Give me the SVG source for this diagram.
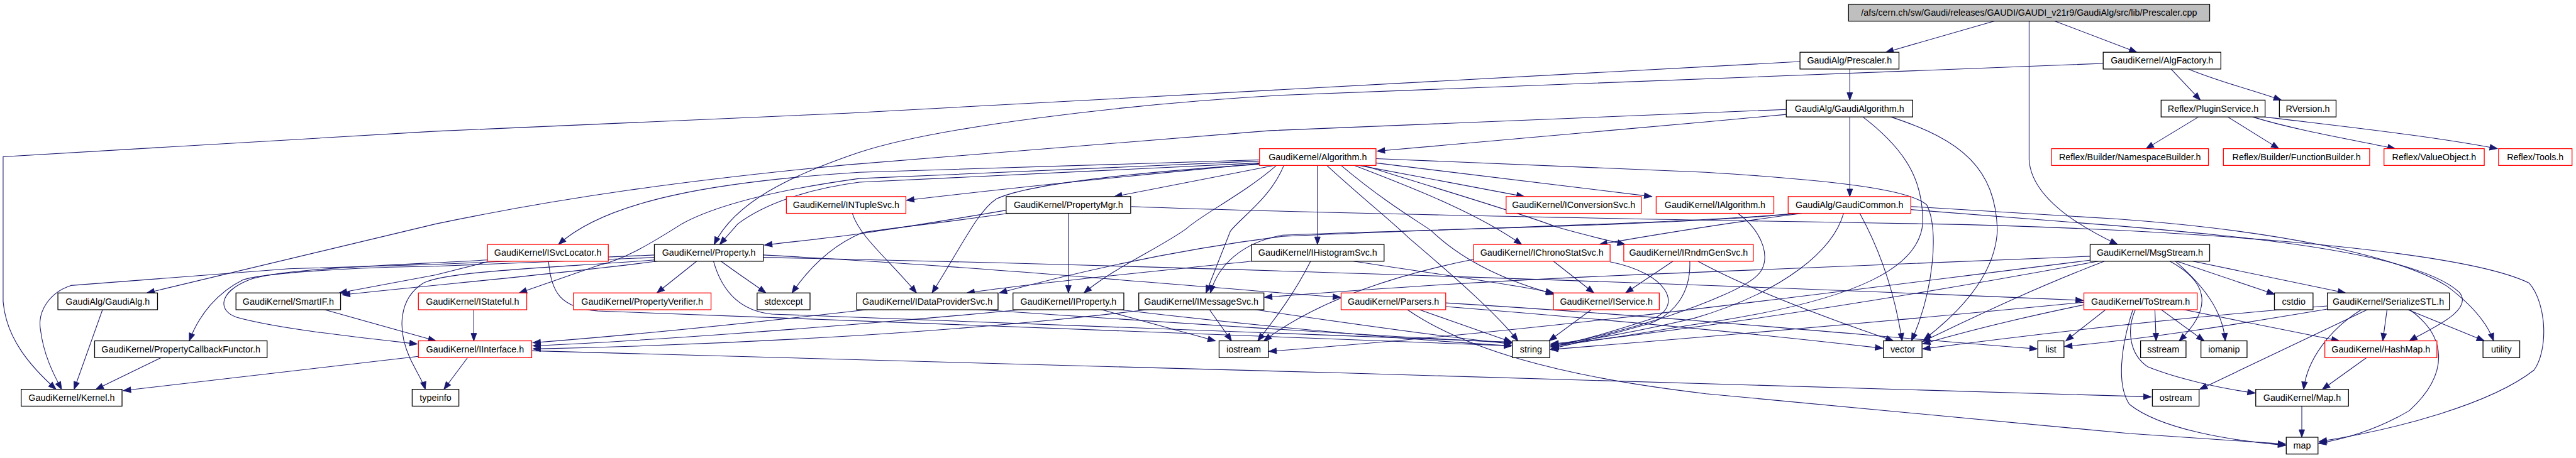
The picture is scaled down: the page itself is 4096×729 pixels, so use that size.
<svg xmlns="http://www.w3.org/2000/svg" width="4096" height="729" viewBox="0 0 4096 729">
<style>
.e{fill:none;stroke:#191970;stroke-width:1.1;marker-end:url(#a)}
.n rect{fill:#fff;stroke:#000;stroke-width:1.3}
.n.r rect{stroke:#ff0000}
.n.g rect{fill:#bfbfbf}
.n text{font-family:"Liberation Sans",Arial,sans-serif;font-size:14.5px;text-anchor:middle;fill:#000}
</style>
<defs>
<marker id="a" markerUnits="userSpaceOnUse" markerWidth="12" markerHeight="9" refX="12" refY="4.5" orient="auto" overflow="visible"><path d="M0,0L12,4.5L0,9z" fill="#191970" stroke="#191970" stroke-width="1"/></marker>
</defs>
<rect width="4096" height="729" fill="#fff"/>
<g transform="scale(0.99)">
<g id="edges">
<path class="e" d="M3206,33 L3029,84"/>
<path class="e" d="M3298,33 L3432,84"/>
<path class="e" d="M3259,33 L3259,257 C3262,305 3310,350 3401,393"/>
<path class="e" d="M2971,111 L2971,161"/>
<path class="e" d="M2891,99 L1360,182 L700,211 L5,252 L5,485 C10,545 50,590 90,626"/>
<path class="e" d="M3378,102 L2060,153 C1800,168 1500,205 1380,245 C1270,282 1180,325 1147,393"/>
<path class="e" d="M3487,111 L3534,161"/>
<path class="e" d="M3515,111 C3560,130 3625,147 3664,161"/>
<path class="e" d="M3531,188 L3447,239"/>
<path class="e" d="M3578,188 L3660,239"/>
<path class="e" d="M3618,188 C3690,210 3780,225 3847,239"/>
<path class="e" d="M3637,188 C3760,203 3900,218 4011,239"/>
<path class="e" d="M2971,188 L2971,316"/>
<path class="e" d="M2869,176 L2040,210 L1360,265 C1100,290 900,318 700,360 L236,471"/>
<path class="e" d="M2869,184 L2740,196 L2212,243"/>
<path class="e" d="M2992,188 C3060,240 3090,290 3088,360 C3082,425 3000,482 2720,522 C2620,538 2550,550 2491,557"/>
<path class="e" d="M3037,188 C3150,225 3205,270 3208,370 C3205,440 3150,500 3090,546"/>
<path class="e" d="M2210,255 L2740,277 C2950,290 3070,305 3095,330 C3115,370 3105,470 3070,548"/>
<path class="e" d="M2987,343 C3010,385 3040,450 3055,548"/>
<path class="e" d="M2961,343 C2945,400 2870,468 2720,512 C2620,535 2550,548 2491,553"/>
<path class="e" d="M2023,263 C1800,284 1600,305 1456,322"/>
<path class="e" d="M2047,266 L1790,316"/>
<path class="e" d="M2183,266 L2448,316"/>
<path class="e" d="M2210,262 L2653,316"/>
<path class="e" d="M2023,257 L1380,277 C1150,292 975,322 897,393"/>
<path class="e" d="M2023,259 L1380,287 C1250,305 1150,330 1095,360 C1040,395 1000,418 960,427 L834,471"/>
<path class="e" d="M2023,262 L1380,293 C1290,305 1225,330 1185,360 L1156,393"/>
<path class="e" d="M2023,264 C1780,280 1640,300 1600,320 C1570,340 1545,395 1497,471"/>
<path class="e" d="M2050,266 C2000,310 1930,345 1905,368 C1860,400 1790,430 1741,471"/>
<path class="e" d="M2062,266 C2040,320 1990,352 1976,372 L1937,471"/>
<path class="e" d="M2116,266 L2116,393"/>
<path class="e" d="M2131,266 C2190,320 2240,360 2262,382 C2330,440 2400,500 2438,548"/>
<path class="e" d="M2154,266 C2230,330 2285,360 2300,372 C2350,420 2420,452 2496,473"/>
<path class="e" d="M2175,266 C2290,310 2375,345 2444,393"/>
<path class="e" d="M2190,266 C2330,310 2450,345 2500,365 C2545,378 2580,386 2610,393"/>
<path class="e" d="M1369,343 C1380,380 1430,420 1472,471"/>
<path class="e" d="M1716,343 L1716,471"/>
<path class="e" d="M1616,338 C1500,358 1420,370 1380,376 C1320,384 1270,389 1228,394"/>
<path class="e" d="M1620,343 C1500,360 1420,368 1385,374 C1335,395 1300,430 1272,471"/>
<path class="e" d="M1817,332 C2100,343 2600,352 3100,360 C3500,368 3950,400 4062,455 C4092,490 4092,565 4070,595 C4000,650 3850,690 3725,710"/>
<path class="e" d="M1119,420 L1055,471"/>
<path class="e" d="M1158,420 C1185,440 1208,455 1230,471"/>
<path class="e" d="M1051,410 L700,425 L464,432 L114,459 C80,470 60,500 65,530 C70,570 85,600 99,626"/>
<path class="e" d="M1051,414 L700,428 C550,430 420,440 390,450 C350,470 320,505 304,548"/>
<path class="e" d="M1051,418 C900,430 720,435 680,455 C640,480 638,530 658,575 C670,600 680,615 683,626"/>
<path class="e" d="M1055,420 C900,440 750,453 550,474"/>
<path class="e" d="M783,421 L700,442 L545,471"/>
<path class="e" d="M783,418 C600,428 450,432 400,450 C350,470 350,500 380,510 C450,530 600,545 670,553"/>
<path class="e" d="M881,420 C885,470 900,495 960,500 C1500,520 2100,545 2428,556"/>
<path class="e" d="M761,497 L761,548"/>
<path class="e" d="M518,497 L700,548"/>
<path class="e" d="M672,573 L198,628"/>
<path class="e" d="M751,575 L713,626"/>
<path class="e" d="M854,564 C1500,578 2800,620 3455,638"/>
<path class="e" d="M165,497 L119,626"/>
<path class="e" d="M259,575 L154,626"/>
<path class="e" d="M1400,497 C1200,520 1000,540 856,551"/>
<path class="e" d="M1650,497 C1300,530 1000,550 856,556"/>
<path class="e" d="M1850,497 C1500,540 1100,556 856,561"/>
<path class="e" d="M1560,497 C1900,520 2200,540 2428,551"/>
<path class="e" d="M1766,497 L1952,548"/>
<path class="e" d="M1790,497 C2000,522 2250,546 2428,556"/>
<path class="e" d="M1942,497 L1978,548"/>
<path class="e" d="M2010,497 C2200,525 2350,545 2428,553"/>
<path class="e" d="M2105,420 C2080,470 2050,510 2020,548"/>
<path class="e" d="M2367,417 C2250,440 2120,480 2030,548"/>
<path class="e" d="M2010,420 C1900,432 1700,450 1553,471"/>
<path class="e" d="M2885,343 C2700,360 2300,368 2060,380 C1900,400 1750,432 1605,471"/>
<path class="e" d="M2890,343 C2700,362 2250,370 2060,378 C1994,390 1956,427 1944,471"/>
<path class="e" d="M2895,343 C2800,355 2700,370 2569,393"/>
<path class="e" d="M2174,420 C2300,440 2420,455 2495,471"/>
<path class="e" d="M2495,420 L2560,471"/>
<path class="e" d="M2687,420 L2611,471"/>
<path class="e" d="M2586,421 C2680,440 2700,490 2660,510 C2600,530 2540,548 2491,558"/>
<path class="e" d="M2714,420 C2716,470 2690,505 2650,520 C2580,540 2530,552 2491,561"/>
<path class="e" d="M2727,420 C2800,460 2900,500 3041,548"/>
<path class="e" d="M2791,343 C2830,370 2850,420 2820,445 C2780,480 2600,540 2491,555"/>
<path class="e" d="M2557,497 L2488,548"/>
<path class="e" d="M2277,497 L2428,550"/>
<path class="e" d="M2322,493 C2600,515 2850,540 3024,560"/>
<path class="e" d="M2322,487 C2700,510 3000,540 3272,561"/>
<path class="e" d="M2259,497 C2350,560 2500,605 2740,633 L3420,697 L3671,714"/>
<path class="e" d="M1226,410 C1600,430 1900,460 2153,478"/>
<path class="e" d="M1226,414 C1800,425 2700,455 3346,483"/>
<path class="e" d="M3461,497 L3463,548"/>
<path class="e" d="M3470,497 L3540,548"/>
<path class="e" d="M3503,497 L3757,548"/>
<path class="e" d="M3430,497 C3415,530 3420,570 3450,590 C3500,610 3570,625 3622,632"/>
<path class="e" d="M3426,497 C3405,560 3400,620 3420,650 C3470,690 3580,708 3671,716"/>
<path class="e" d="M3347,490 C3250,510 3150,535 3088,553"/>
<path class="e" d="M3383,497 L3318,548"/>
<path class="e" d="M3347,486 C3000,520 2700,545 2490,562"/>
<path class="e" d="M3357,412 L2720,438 C2400,450 2200,465 2031,478"/>
<path class="e" d="M3522,420 L3767,471"/>
<path class="e" d="M3496,420 L3653,473"/>
<path class="e" d="M3485,420 C3540,450 3560,490 3500,548"/>
<path class="e" d="M3494,420 C3540,460 3570,500 3574,548"/>
<path class="e" d="M3380,420 C3250,470 3150,520 3088,549"/>
<path class="e" d="M3370,420 C3100,470 2800,520 2490,555"/>
<path class="e" d="M3360,418 C2900,475 2500,530 2038,565"/>
<path class="e" d="M3804,497 L3533,626"/>
<path class="e" d="M3794,497 C3740,530 3705,580 3700,626"/>
<path class="e" d="M3834,497 L3827,548"/>
<path class="e" d="M3865,497 L3990,548"/>
<path class="e" d="M3869,497 C3930,540 3935,600 3870,660 C3820,690 3770,705 3724,713"/>
<path class="e" d="M3738,492 C3500,510 3250,540 3088,561"/>
<path class="e" d="M3738,497 C3600,520 3450,545 3316,557"/>
<path class="e" d="M3801,575 L3730,626"/>
<path class="e" d="M3697,653 L3697,703"/>
<path class="e" d="M3069,337 L3400,363 C3600,380 3880,405 3950,470 C3975,500 3900,530 3870,548"/>
<path class="e" d="M3069,332 L3400,352 C3650,370 3850,410 3930,460 C3970,490 3995,520 4005,548"/>
<path class="e" d="M1146,420 C1160,470 1190,500 1240,505 C1700,520 2100,540 2428,550"/>
</g>
<g id="nodes">
<g id="n-root" class="n g"><rect x="2969" y="7" width="580" height="27"/><text x="3259" y="25.5">/afs/cern.ch/sw/Gaudi/releases/GAUDI/GAUDI_v21r9/GaudiAlg/src/lib/Prescaler.cpp</text></g>
<g id="n-prescaler" class="n"><rect x="2891" y="84" width="159" height="27"/><text x="2970.5" y="102.5">GaudiAlg/Prescaler.h</text></g>
<g id="n-algfactory" class="n"><rect x="3378" y="84" width="189" height="27"/><text x="3472.5" y="102.5">GaudiKernel/AlgFactory.h</text></g>
<g id="n-gaudialgorithm" class="n"><rect x="2869" y="161" width="203" height="27"/><text x="2970.5" y="179.5">GaudiAlg/GaudiAlgorithm.h</text></g>
<g id="n-pluginservice" class="n"><rect x="3471" y="161" width="167" height="27"/><text x="3554.5" y="179.5">Reflex/PluginService.h</text></g>
<g id="n-rversion" class="n"><rect x="3661" y="161" width="91" height="27"/><text x="3706.5" y="179.5">RVersion.h</text></g>
<g id="n-algorithm" class="n r"><rect x="2023" y="239" width="187" height="27"/><text x="2116.5" y="257.5">GaudiKernel/Algorithm.h</text></g>
<g id="n-nsbuilder" class="n r"><rect x="3295" y="239" width="252" height="27"/><text x="3421" y="257.5">Reflex/Builder/NamespaceBuilder.h</text></g>
<g id="n-fnbuilder" class="n r"><rect x="3571" y="239" width="235" height="27"/><text x="3688.5" y="257.5">Reflex/Builder/FunctionBuilder.h</text></g>
<g id="n-valueobject" class="n r"><rect x="3829" y="239" width="161" height="27"/><text x="3909.5" y="257.5">Reflex/ValueObject.h</text></g>
<g id="n-tools" class="n r"><rect x="4013" y="239" width="118" height="27"/><text x="4072" y="257.5">Reflex/Tools.h</text></g>
<g id="n-intuplesvc" class="n r"><rect x="1263" y="316" width="192" height="27"/><text x="1359" y="334.5">GaudiKernel/INTupleSvc.h</text></g>
<g id="n-propertymgr" class="n"><rect x="1616" y="316" width="200" height="27"/><text x="1716" y="334.5">GaudiKernel/PropertyMgr.h</text></g>
<g id="n-iconversionsvc" class="n r"><rect x="2419" y="316" width="217" height="27"/><text x="2527.5" y="334.5">GaudiKernel/IConversionSvc.h</text></g>
<g id="n-ialgorithm" class="n r"><rect x="2660" y="316" width="189" height="27"/><text x="2754.5" y="334.5">GaudiKernel/IAlgorithm.h</text></g>
<g id="n-gaudicommon" class="n r"><rect x="2872" y="316" width="197" height="27"/><text x="2970.5" y="334.5">GaudiAlg/GaudiCommon.h</text></g>
<g id="n-isvclocator" class="n r"><rect x="783" y="393" width="194" height="27"/><text x="880" y="411.5">GaudiKernel/ISvcLocator.h</text></g>
<g id="n-property" class="n"><rect x="1051" y="393" width="175" height="27"/><text x="1138.5" y="411.5">GaudiKernel/Property.h</text></g>
<g id="n-ihistogramsvc" class="n"><rect x="2010" y="393" width="213" height="27"/><text x="2116.5" y="411.5">GaudiKernel/IHistogramSvc.h</text></g>
<g id="n-ichronostatsvc" class="n r"><rect x="2367" y="393" width="219" height="27"/><text x="2476.5" y="411.5">GaudiKernel/IChronoStatSvc.h</text></g>
<g id="n-irndmgensvc" class="n r"><rect x="2608" y="393" width="208" height="27"/><text x="2712" y="411.5">GaudiKernel/IRndmGenSvc.h</text></g>
<g id="n-msgstream" class="n"><rect x="3357" y="393" width="192" height="27"/><text x="3453" y="411.5">GaudiKernel/MsgStream.h</text></g>
<g id="n-gaudialg" class="n"><rect x="93" y="471" width="160" height="27"/><text x="173" y="489.5">GaudiAlg/GaudiAlg.h</text></g>
<g id="n-smartif" class="n"><rect x="379" y="471" width="168" height="27"/><text x="463" y="489.5">GaudiKernel/SmartIF.h</text></g>
<g id="n-istateful" class="n r"><rect x="672" y="471" width="174" height="27"/><text x="759" y="489.5">GaudiKernel/IStateful.h</text></g>
<g id="n-propertyverifier" class="n r"><rect x="921" y="471" width="221" height="27"/><text x="1031.5" y="489.5">GaudiKernel/PropertyVerifier.h</text></g>
<g id="n-stdexcept" class="n"><rect x="1216" y="471" width="85" height="27"/><text x="1258.5" y="489.5">stdexcept</text></g>
<g id="n-idataprovidersvc" class="n"><rect x="1376" y="471" width="227" height="27"/><text x="1489.5" y="489.5">GaudiKernel/IDataProviderSvc.h</text></g>
<g id="n-iproperty" class="n"><rect x="1627" y="471" width="178" height="27"/><text x="1716" y="489.5">GaudiKernel/IProperty.h</text></g>
<g id="n-imessagesvc" class="n"><rect x="1829" y="471" width="201" height="27"/><text x="1929.5" y="489.5">GaudiKernel/IMessageSvc.h</text></g>
<g id="n-parsers" class="n r"><rect x="2154" y="471" width="168" height="27"/><text x="2238" y="489.5">GaudiKernel/Parsers.h</text></g>
<g id="n-iservice" class="n r"><rect x="2495" y="471" width="170" height="27"/><text x="2580" y="489.5">GaudiKernel/IService.h</text></g>
<g id="n-tostream" class="n r"><rect x="3347" y="471" width="182" height="27"/><text x="3438" y="489.5">GaudiKernel/ToStream.h</text></g>
<g id="n-cstdio" class="n"><rect x="3653" y="471" width="62" height="27"/><text x="3684" y="489.5">cstdio</text></g>
<g id="n-serializestl" class="n"><rect x="3738" y="471" width="196" height="27"/><text x="3836" y="489.5">GaudiKernel/SerializeSTL.h</text></g>
<g id="n-pcf" class="n"><rect x="152" y="548" width="277" height="27"/><text x="290.5" y="566.5">GaudiKernel/PropertyCallbackFunctor.h</text></g>
<g id="n-iinterface" class="n r"><rect x="672" y="548" width="182" height="27"/><text x="763" y="566.5">GaudiKernel/IInterface.h</text></g>
<g id="n-iostream" class="n"><rect x="1958" y="548" width="79" height="27"/><text x="1997.5" y="566.5">iostream</text></g>
<g id="n-string" class="n"><rect x="2429" y="548" width="60" height="27"/><text x="2459" y="566.5">string</text></g>
<g id="n-vector" class="n"><rect x="3025" y="548" width="62" height="27"/><text x="3056" y="566.5">vector</text></g>
<g id="n-list" class="n"><rect x="3273" y="548" width="42" height="27"/><text x="3294" y="566.5">list</text></g>
<g id="n-sstream" class="n"><rect x="3438" y="548" width="73" height="27"/><text x="3474.5" y="566.5">sstream</text></g>
<g id="n-iomanip" class="n"><rect x="3535" y="548" width="74" height="27"/><text x="3572" y="566.5">iomanip</text></g>
<g id="n-hashmap" class="n r"><rect x="3734" y="548" width="180" height="27"/><text x="3824" y="566.5">GaudiKernel/HashMap.h</text></g>
<g id="n-utility" class="n"><rect x="3988" y="548" width="59" height="27"/><text x="4017.5" y="566.5">utility</text></g>
<g id="n-kernel" class="n"><rect x="34" y="626" width="162" height="27"/><text x="115" y="644.5">GaudiKernel/Kernel.h</text></g>
<g id="n-typeinfo" class="n"><rect x="662" y="626" width="75" height="27"/><text x="699.5" y="644.5">typeinfo</text></g>
<g id="n-ostream" class="n"><rect x="3457" y="626" width="75" height="27"/><text x="3494.5" y="644.5">ostream</text></g>
<g id="n-maph" class="n"><rect x="3623" y="626" width="149" height="27"/><text x="3697.5" y="644.5">GaudiKernel/Map.h</text></g>
<g id="n-map" class="n"><rect x="3672" y="703" width="51" height="27"/><text x="3697.5" y="721.5">map</text></g>
</g>
</g>
</svg>
